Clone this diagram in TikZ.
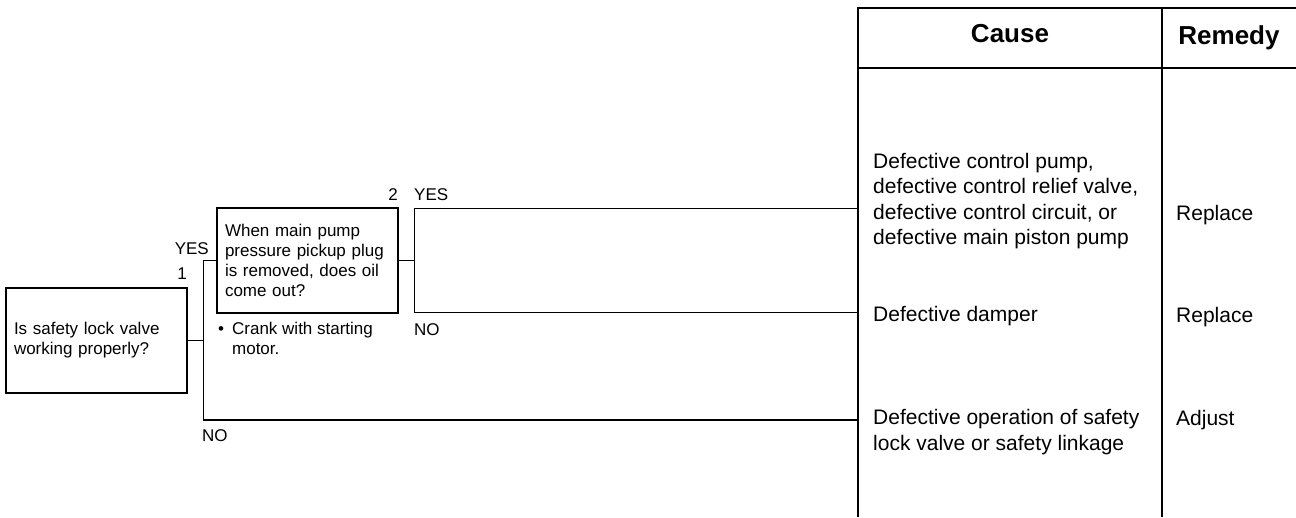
\documentclass[tikz,border=0pt]{standalone}
\usepackage{fontspec}
\setmainfont{Liberation Sans}
\usetikzlibrary{positioning}

\begin{document}
\begin{tikzpicture}[
    x=1pt, y=-1pt,
    qbox/.style={
      rectangle, draw=black, line width=1.1pt,
      minimum height=105pt, text width=165pt,
      font=\fontsize{17}{20}\selectfont,
      align=left, inner sep=8pt,
    },
    lbl/.style={font=\fontsize{17}{20}\selectfont, inner sep=0pt},
    cell/.style={font=\fontsize{21}{25.5}\selectfont, align=left, inner sep=0pt, anchor=west},
    head/.style={font=\fontsize{26}{30}\selectfont\bfseries, inner sep=0pt},
    wire/.style={draw=black, line width=1.1pt},
  ]
  \useasboundingbox (0,0) rectangle (1296,517);

  % ---- Question boxes ----
  \node[qbox] (q1) at (96.5,340.5) {Is safety lock valve\\working properly?};
  \node[qbox] (q2) at (307.5,260.5) {When main pump\\pressure pickup plug\\is removed, does oil\\come out?};
  \node[lbl, anchor=north west, align=left] (note) at (218,321.5)
    {\textbullet\hspace{8pt}Crank with starting\\\phantom{\textbullet}\hspace{8pt}motor.};

  % ---- Branch 1 ----
  \coordinate[right=16pt of q1.east] (j1);
  \coordinate (no1) at (858,420);
  \draw[wire] (q1.east) -- (j1);
  \draw[wire] (q2.west) -| (j1) |- (no1);
  \node[lbl, anchor=east] (yes1) at (209,249) {YES};
  \node[lbl] (num1) at (182,274) {1};
  \node[lbl, anchor=west] (nolab1) at (202,436) {NO};

  % ---- Branch 2 ----
  \coordinate[right=16pt of q2.east] (j2);
  \coordinate (yes2) at (858,208.5);
  \coordinate (no2) at (858,312.5);
  \draw[wire] (q2.east) -- (j2);
  \draw[wire] (yes2) -| (j2) |- (no2);
  \node[lbl] (num2) at (393,195) {2};
  \node[lbl, anchor=west] (yeslab2) at (414,195) {YES};
  \node[lbl, anchor=west] (nolab2) at (414,330) {NO};

  % ---- Cause / Remedy table ----
  \draw[wire] (858,517) -- (858,8) -- (1296,8);
  \draw[wire] (858,68) -- (1296,68);
  \draw[wire] (1162,8) -- (1162,517);
  \node[head] (hcause) at (1010,34) {Cause};
  \node[head] (hremedy) at (1229,38) {Remedy};

  \node[cell] (cause1) at (873,201) {Defective control pump,\\defective control relief valve,\\defective control circuit, or\\defective main piston pump};
  \node[cell] (cause2) at (873,316) {Defective damper};
  \node[cell] (cause3) at (873,432) {Defective operation of safety\\lock valve or safety linkage};

  \node[cell] (rem1) at (1176,215) {Replace};
  \node[cell] (rem2) at (1176,317) {Replace};
  \node[cell] (rem3) at (1176,420) {Adjust};

\end{tikzpicture}
\end{document}
